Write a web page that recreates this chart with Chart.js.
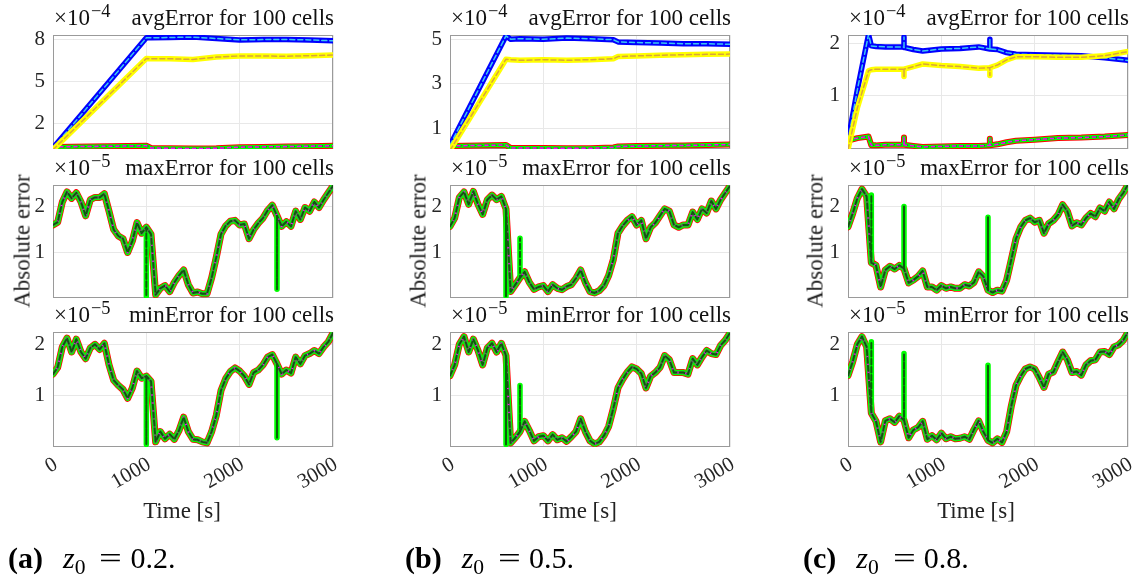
<!DOCTYPE html>
<html><head><meta charset="utf-8">
<script src="https://cdn.jsdelivr.net/npm/chart.js@4.4.0/dist/chart.umd.min.js"></script>
<style>
body{margin:0;width:1141px;height:578px;background:#fff;position:relative;overflow:hidden;font-family:"Liberation Serif","Times New Roman",serif;color:#000}
canvas{position:absolute}
.ttl{position:absolute;font-size:23px;line-height:1;white-space:nowrap;display:flex;justify-content:space-between;color:#111}
.sup{position:relative;top:-0.42em;font-size:0.8em;margin-left:1px}
.sub{position:relative;top:0.28em;font-size:0.72em}
.ylab{position:absolute;font-size:23px;line-height:1;white-space:nowrap;transform:translate(-50%,-50%) rotate(-90deg);color:#222}
.xlab{position:absolute;font-size:23px;line-height:1;white-space:nowrap;transform:translateX(-50%);color:#222}
.cap{position:absolute;font-size:30px;line-height:1;white-space:nowrap}
.zz{margin-left:5px}
.eq{display:inline-block;transform:scaleX(1.35);margin:0 11px 0 17px}
</style></head><body>
<script>
// ---------- data ----------
const xTicks = [0, 1000, 2000, 3000];
const timeGrid = [0,50,100,150,200,250,300,350,400,450,500,550,600,650,700,750,800,850,900,950,
  1000,1050,1100,1150,1200,1250,1300,1350,1400,1450,1500,1550,1600,1650,1700,1750,1800,1850,1900,1950,
  2000,2050,2100,2150,2200,2250,2300,2350,2400,2450,2500,2550,2600,2650,2700,2750,2800,2850,2900,2950,3000];

// avgError (x1e-4)
const avgTimeA = [0,1000,1050,1250,1500,1750,2000,2250,2500,2750,3000];
const avgBlueA = [0.22,8.10,8.10,8.12,8.15,8.05,7.95,7.97,7.98,7.95,7.88];
const avgYellowA = [0.10,6.62,6.60,6.60,6.55,6.72,6.80,6.80,6.78,6.82,6.87];
const avgLowA = [0.30,0.38,0.22,0.20,0.18,0.20,0.28,0.30,0.32,0.35,0.38];

const avgTimeB = [0,600,650,750,1000,1250,1500,1750,1800,2000,2250,2500,2750,3000];
const avgBlueB = [0.23,5.15,5.00,5.02,5.00,5.05,5.02,4.98,4.88,4.85,4.83,4.80,4.80,4.77];
const avgYellowB = [0.00,4.10,4.08,4.05,4.08,4.05,4.08,4.12,4.22,4.25,4.28,4.30,4.32,4.33];
const avgLowB = [0.20,0.24,0.10,0.10,0.10,0.09,0.09,0.13,0.17,0.19,0.21,0.22,0.24,0.26];

const avgTimeC = [0,100,220,250,300,400,600,600,600,700,800,1000,1200,1400,1520,1520,1520,1600,1700,1800,2000,2250,2500,2750,3000];
const avgBlueC = [0.12,1.10,2.17,1.95,1.94,1.93,1.93,2.12,1.92,1.88,1.85,1.89,1.90,1.93,1.89,2.08,1.89,1.88,1.82,1.79,1.78,1.77,1.76,1.72,1.67];
const avgYellowC = [-0.05,0.75,1.47,1.49,1.50,1.50,1.50,1.36,1.50,1.55,1.60,1.57,1.55,1.52,1.53,1.38,1.53,1.58,1.68,1.74,1.74,1.73,1.73,1.76,1.84];
const avgLowC = [0.12,0.17,0.20,0.03,0.03,0.04,0.04,0.18,0.04,0.02,0.00,0.01,0.02,0.02,0.03,0.16,0.03,0.05,0.09,0.12,0.14,0.17,0.18,0.20,0.23];

// maxError (x1e-5)
const maxA = [1.60,1.66,2.10,2.32,2.18,2.30,2.10,1.80,2.15,2.20,
  2.20,2.28,1.90,1.50,1.36,1.30,1.00,1.25,1.65,1.42,
  1.55,1.40,0.08,0.22,0.28,0.15,0.35,0.50,0.62,0.30,
  0.12,0.14,0.10,0.10,0.45,0.90,1.40,1.58,1.68,1.70,
  1.60,1.62,1.30,1.50,1.64,1.75,1.92,2.03,1.80,1.57,
  1.67,1.57,1.90,1.72,1.98,1.90,2.10,1.98,2.15,2.30,2.45];
const maxB = [1.57,1.75,2.20,2.32,2.05,2.33,2.05,1.83,2.15,2.25,
  2.15,2.22,1.95,0.15,0.30,0.45,0.58,0.35,0.20,0.25,
  0.28,0.15,0.30,0.22,0.19,0.26,0.30,0.44,0.62,0.35,
  0.15,0.12,0.17,0.28,0.50,0.85,1.42,1.58,1.70,1.78,
  1.60,1.70,1.30,1.55,1.65,1.80,1.95,1.90,1.60,1.55,
  1.60,1.60,1.88,1.72,1.95,1.86,2.12,1.95,2.15,2.30,2.45];
const maxC = [1.56,1.85,2.18,2.38,2.22,0.78,0.72,0.25,0.62,0.70,
  0.64,0.72,0.65,0.34,0.40,0.48,0.60,0.25,0.25,0.18,
  0.28,0.22,0.25,0.22,0.22,0.30,0.27,0.35,0.58,0.48,
  0.18,0.13,0.18,0.16,0.40,0.85,1.30,1.55,1.70,1.75,
  1.66,1.70,1.42,1.63,1.70,1.82,2.04,1.90,1.58,1.65,
  1.60,1.75,1.85,1.78,1.97,1.90,2.10,1.95,2.16,2.30,2.48];

// minError (x1e-5)
const minA = [1.42,1.55,1.95,2.12,1.85,2.10,1.85,1.72,1.93,2.00,
  1.90,2.02,1.60,1.30,1.20,1.12,0.95,1.15,1.48,1.34,
  1.38,1.28,0.10,0.30,0.16,0.25,0.15,0.32,0.58,0.30,
  0.15,0.14,0.10,0.08,0.30,0.62,1.10,1.33,1.47,1.54,
  1.48,1.38,1.22,1.45,1.50,1.60,1.75,1.80,1.62,1.42,
  1.50,1.44,1.75,1.62,1.78,1.82,1.88,1.82,1.95,2.05,2.22];
const minB = [1.39,1.60,2.00,2.15,1.85,2.10,1.88,1.60,1.93,2.02,
  1.85,2.02,1.78,0.08,0.18,0.30,0.50,0.32,0.12,0.20,
  0.22,0.12,0.24,0.14,0.18,0.11,0.20,0.30,0.55,0.30,
  0.12,0.06,0.10,0.22,0.40,0.75,1.15,1.32,1.46,1.56,
  1.52,1.43,1.15,1.38,1.45,1.55,1.78,1.70,1.45,1.45,
  1.45,1.42,1.72,1.60,1.75,1.88,1.82,1.80,1.98,2.08,2.22];
const minC = [1.39,1.66,2.00,2.15,1.95,0.66,0.50,0.10,0.51,0.55,
  0.48,0.60,0.52,0.18,0.33,0.38,0.50,0.15,0.22,0.14,
  0.27,0.16,0.20,0.16,0.17,0.20,0.15,0.34,0.51,0.30,
  0.13,0.08,0.16,0.09,0.30,0.80,1.20,1.38,1.52,1.56,
  1.52,1.35,1.16,1.42,1.46,1.66,1.85,1.70,1.45,1.47,
  1.40,1.60,1.68,1.70,1.85,1.86,1.80,1.95,1.99,2.08,2.24];

// vertical spikes seen only in the green series: [time, value]
const spikesMaxA = [[1000,0.05],[2400,0.20]];
const spikesMinA = [[1000,0.05],[2400,0.18]];
const spikesMaxB = [[600,0.05],[750,1.31]];
const spikesMinB = [[600,0.05],[750,1.20]];
const spikesMaxC = [[250,2.25],[600,2.00],[1500,1.77]];
const spikesMinC = [[250,2.05],[600,1.82],[1500,1.59]];

// tick labels
const yTicksAvgA = [2,5,8];
const yTicksAvgB = [1,3,5];
const yTicksAvgC = [1,2];
const yTicksErr = [1,2];

// ---------- layout ----------
const colLeft = [53, 450, 848];
const plotW = 280;
const rowGeom = [{top:35,h:114},{top:185,h:113},{top:332,h:115}];
const tickFont = {family:'"Liberation Serif", serif', size:21};
const tickColor = '#262626';

const boxPlugin = {
  id:'box',
  beforeDatasetsDraw(chart){
    const a = chart.chartArea, c = chart.ctx;
    c.save(); c.strokeStyle = '#9a9a9a'; c.lineWidth = 1;
    c.strokeRect(Math.round(a.left)+0.5, Math.round(a.top)+0.5, Math.round(a.right-a.left)-1, Math.round(a.bottom-a.top)-1);
    c.restore();
  }
};

function pts(times, vals){ return times.map((t,i)=>({x:t, y:vals[i]})); }
function withSpikes(times, vals, spikes){
  const out = [];
  times.forEach((t,i)=>{
    out.push({x:t, y:vals[i]});
    spikes.forEach(s=>{ if (s[0]===t){ out.push({x:t,y:s[1]}); out.push({x:t,y:vals[i]}); } });
  });
  return out;
}
function ds(data, color, width, dash){
  return {data, borderColor:color, borderWidth:width, borderDash:dash||[], pointRadius:0, fill:false, tension:0,
          borderCapStyle:'round', borderJoinStyle:'round'};
}
function avgSets(times, blue, yellow, low){
  return [
    ds(pts(times,yellow), '#d9a53a', 1.5, [5,3]),
    ds(pts(times,yellow), '#ffff00', 5.5),
    ds(pts(times,blue), '#3cc8f0', 1.5, [5,3]),
    ds(pts(times,blue), '#0000ff', 5.5),
    ds(pts(times,low), '#ff00ff', 1.5, [3,4]),
    ds(pts(times,low), '#2d6a2d', 1.5, [4,3]),
    ds(pts(times,low), '#00ff00', 4),
    ds(pts(times,low), '#ff0000', 6)
  ];
}
function errSets(vals, spikes){
  const base = pts(timeGrid, vals);
  const sp = withSpikes(timeGrid, vals, spikes);
  return [
    ds(sp, '#0b5e0b', 2, [5,3]),
    ds(base, '#ff00ff', 1.5, [3,4]),
    ds(base, '#5f7a55', 3),
    ds(sp, '#00ff00', 5.5),
    ds(base, '#ff0000', 7)
  ];
}

function makeChart(col, row, datasets, yMin, yMax, yTicks){
  const L = colLeft[col], g = rowGeom[row];
  const padL = 60, padT = 10, padR = 10;
  const showX = row === 2;
  const xh = showX ? 62 : 4;
  const W = padL + plotW + padR, H = padT + g.h + xh;
  const cv = document.createElement('canvas');
  cv.width = W; cv.height = H;
  cv.style.width = W+'px'; cv.style.height = H+'px';
  cv.style.left = (L - padL)+'px'; cv.style.top = (g.top - padT)+'px';
  document.body.appendChild(cv);
  new Chart(cv, {
    type:'line',
    data:{datasets},
    options:{
      responsive:false, animation:false, devicePixelRatio:1,
      layout:{padding:{top:padT, right:padR, left:0, bottom:0}},
      plugins:{legend:{display:false}, tooltip:{enabled:false}, title:{display:false}},
      scales:{
        x:{type:'linear', min:0, max:3000,
           afterBuildTicks:s=>{ s.ticks = xTicks.map(v=>({value:v})); },
           afterFit:s=>{ s.height = xh; s.paddingLeft = 0; s.paddingRight = 0; s.paddingTop = 0; s.paddingBottom = 0; },
           ticks:{display:showX, autoSkip:false, minRotation:30, maxRotation:30, font:tickFont, color:tickColor,
                  padding:5, labelOffset:3, callback:v=>String(v)},
           grid:{color:'#e8e8e8', drawTicks:false, lineWidth:1},
           border:{display:false}},
        y:{type:'linear', min:yMin, max:yMax,
           afterBuildTicks:s=>{ s.ticks = yTicks.map(v=>({value:v})); },
           afterFit:s=>{ s.width = padL; s.paddingTop = 0; s.paddingBottom = 0; s.paddingLeft = 0; s.paddingRight = 0; },
           ticks:{font:tickFont, color:tickColor, padding:8, callback:v=>String(v)},
           grid:{color:'#e8e8e8', drawTicks:false, lineWidth:1},
           border:{display:false}}
      }
    },
    plugins:[boxPlugin]
  });
}

function addTitle(col, row, exp, name){
  const d = document.createElement('div');
  d.className = 'ttl';
  d.style.left = (colLeft[col]+1)+'px';
  d.style.width = (plotW)+'px';
  d.style.top = (rowGeom[row].top - 29)+'px';
  d.innerHTML = '<span>×10<span class="sup">−'+exp+'</span></span><span>'+name+'</span>';
  document.body.appendChild(d);
}

makeChart(0,0, avgSets(avgTimeA, avgBlueA, avgYellowA, avgLowA), 0.15, 8.3, yTicksAvgA);
makeChart(1,0, avgSets(avgTimeB, avgBlueB, avgYellowB, avgLowB), 0.06, 5.19, yTicksAvgB);
makeChart(2,0, avgSets(avgTimeC, avgBlueC, avgYellowC, avgLowC), -0.04, 2.16, yTicksAvgC);
makeChart(0,1, errSets(maxA, spikesMaxA), 0.01, 2.47, yTicksErr);
makeChart(1,1, errSets(maxB, spikesMaxB), 0.01, 2.47, yTicksErr);
makeChart(2,1, errSets(maxC, spikesMaxC), 0.01, 2.47, yTicksErr);
makeChart(0,2, errSets(minA, spikesMinA), 0.0, 2.24, yTicksErr);
makeChart(1,2, errSets(minB, spikesMinB), 0.0, 2.24, yTicksErr);
makeChart(2,2, errSets(minC, spikesMinC), 0.0, 2.24, yTicksErr);

for (let c=0;c<3;c++){
  addTitle(c,0,'4','avgError for 100 cells');
  addTitle(c,1,'5','maxError for 100 cells');
  addTitle(c,2,'5','minError for 100 cells');
}

const yLabX = [22, 418, 815];
const xLabX = [182, 578, 976];
const capX = [8, 405, 803];
const capLetters = ['a','b','c'];
const capValues = ['0.2','0.5','0.8'];
for (let c=0;c<3;c++){
  const y = document.createElement('div'); y.className='ylab';
  y.style.left = yLabX[c]+'px'; y.style.top = '241px'; y.textContent = 'Absolute error';
  document.body.appendChild(y);
  const x = document.createElement('div'); x.className='xlab';
  x.style.left = xLabX[c]+'px'; x.style.top = '499px'; x.textContent = 'Time [s]';
  document.body.appendChild(x);
  const k = document.createElement('div'); k.className='cap';
  k.style.left = capX[c]+'px'; k.style.top = '543px';
  k.innerHTML = '<b>('+capLetters[c]+')</b>&nbsp;&nbsp;<i class="zz">z</i><span class="sub">0</span><span class="eq">=</span>'+capValues[c]+'.';
  document.body.appendChild(k);
}
</script>
</body></html>
